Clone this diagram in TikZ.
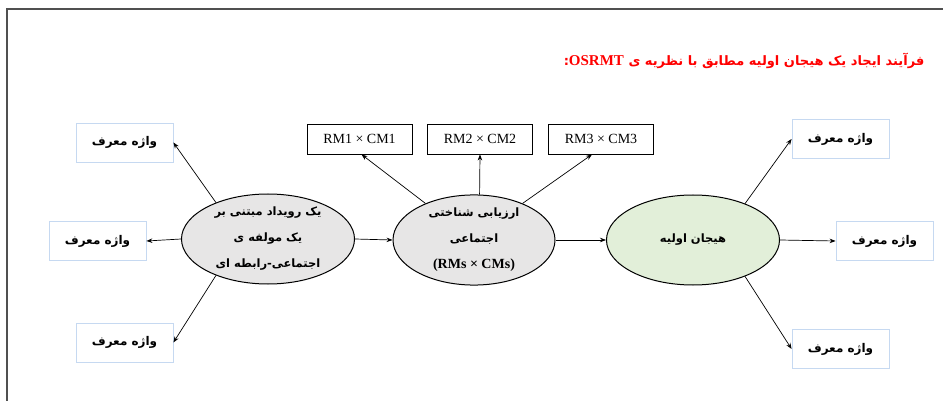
\documentclass[tikz,border=0pt]{standalone}
\usepackage{fontspec}
\setmainfont{Liberation Serif}
\newfontfamily\arabicfont[Script=Arabic]{DejaVu Sans}
\TeXXeTstate=1
\usetikzlibrary{shapes.geometric,arrows.meta}
\definecolor{boxblue}{HTML}{C6D9F1}
\definecolor{ellgray}{HTML}{E7E6E6}
\definecolor{ellgreen}{HTML}{E2EFD9}
\definecolor{framegray}{HTML}{505050}
\begin{document}
\begin{tikzpicture}[x=1pt,y=-1pt,
  wordbox/.style={draw=boxblue, line width=0.8pt, fill=white, minimum width=97pt, minimum height=39pt, inner sep=0pt, font=\arabicfont\bfseries\fontsize{12}{14}\selectfont},
  rmbox/.style={draw=black, line width=0.9pt, fill=white, minimum width=105pt, minimum height=30pt, inner sep=0pt, font=\fontsize{14}{16}\selectfont},
  ell/.style={ellipse, draw=black, line width=1pt, minimum height=90pt, inner sep=0pt, align=center, font=\arabicfont\bfseries\fontsize{11.5}{26}\selectfont},
  arr/.style={-{Stealth[length=6pt,width=4.5pt]}, line width=0.7pt}]
\useasboundingbox (0,0) rectangle (943,401);
\draw[framegray, line width=1.5pt] (943,9) -- (7,9) -- (7,401);

\node[anchor=east, text=red, font=\arabicfont\bfseries\fontsize{13}{15}\selectfont] (title) at (928,61)
  {\beginR فرآیند ایجاد یک هیجان اولیه مطابق با نظریه ی \beginL{\rmfamily\fontsize{15}{16}\selectfont OSRMT}\endL:\endR};

\node[ell, fill=ellgray, minimum width=173pt] (e1) at (268,239)
  {\beginR یک رویداد مبتنی بر\endR\\ \beginR یک مولفه ی\endR\\ \beginR اجتماعی-رابطه ای\endR};
\node[ell, fill=ellgray, minimum width=162pt] (e2) at (474,240)
  {\beginR ارزیابی شناختی\endR\\ \beginR اجتماعی\endR\\ {\rmfamily\fontsize{14}{16}\selectfont (RMs × CMs)}};
\node[ell, fill=ellgreen, minimum width=173pt] (e3) at (693,240)
  {\beginR هیجان اولیه\endR};

\node[wordbox] (bl1) at (124.5,142.5) {\beginR واژه معرف\endR};
\node[wordbox] (bl2) at (97.5,241) {\beginR واژه معرف\endR};
\node[wordbox] (bl3) at (124.5,342.5) {\beginR واژه معرف\endR};
\node[wordbox] (br1) at (840.5,139) {\beginR واژه معرف\endR};
\node[wordbox] (br2) at (884.5,241) {\beginR واژه معرف\endR};
\node[wordbox] (br3) at (840.5,349) {\beginR واژه معرف\endR};

\node[rmbox] (rm1) at (359.5,139) {RM1 × CM1};
\node[rmbox] (rm2) at (480,139) {RM2 × CM2};
\node[rmbox] (rm3) at (601,139) {RM3 × CM3};

\draw[arr] (e1.east) -- (e2.west);
\draw[arr] (e2.east) -- (e3.west);
\draw[arr] (e1.145) -- (bl1.east);
\draw[arr] (e1.west) -- (bl2.east);
\draw[arr] (e1.215) -- (bl3.east);
\draw[arr] (e2.143) -- ([xshift=2pt]rm1.south);
\draw[arr] (e2.83) -- (rm2.south);
\draw[arr] (e2.37) -- ([xshift=-9pt]rm3.south);
\draw[arr] (e3.35) -- (br1.west);
\draw[arr] (e3.east) -- (br2.west);
\draw[arr] (e3.325) -- (br3.west);
\end{tikzpicture}
\end{document}
